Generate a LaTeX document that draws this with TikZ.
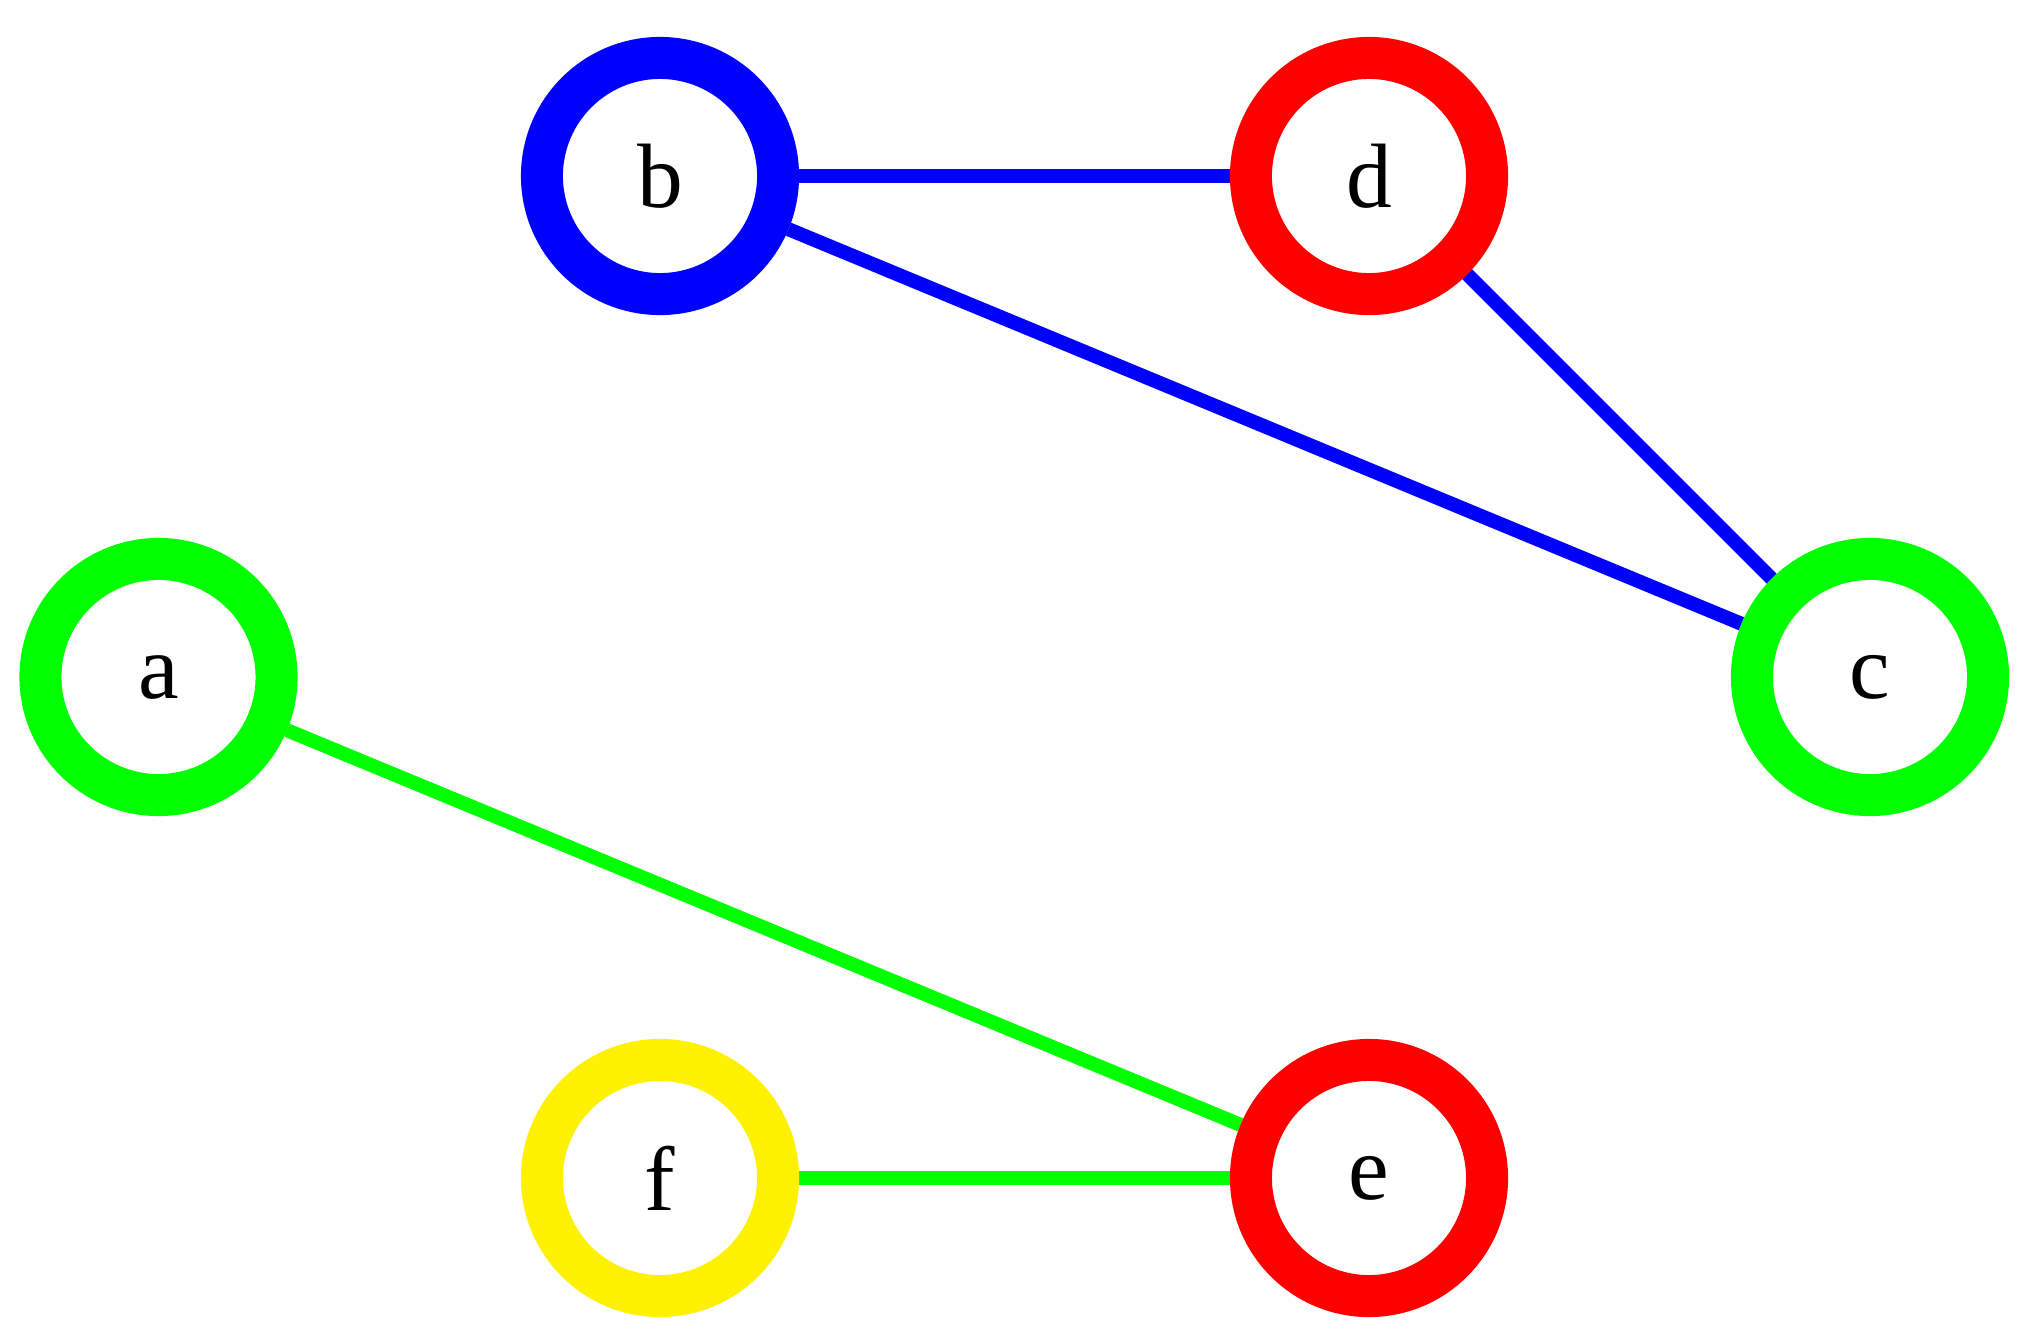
\documentclass[tikz,border=0pt]{standalone}
\usepackage{fontspec}
\setmainfont{Liberation Serif}
\usetikzlibrary{backgrounds}
\definecolor{ringblue}{RGB}{0,0,255}
\definecolor{ringred}{RGB}{255,0,0}
\definecolor{ringgreen}{RGB}{0,255,0}
\definecolor{ringyellow}{RGB}{255,242,0}
\begin{document}
\begin{tikzpicture}[x=0.01cm,y=-0.01cm,
  vertex/.style={circle, draw=#1, line width=0.42cm, minimum size=2.36cm,
    inner sep=0pt, outer sep=0.21cm, fill=white,
    font=\fontsize{26}{30}\selectfont},
  edge/.style={draw=#1, line width=0.14cm}]
\useasboundingbox (0,0) rectangle (2027,1342);
\node[vertex=ringgreen]  (a) at (158.5,677) {a};
\node[vertex=ringblue]   (b) at (660,176) {b};
\node[vertex=ringred]    (d) at (1369,176) {d};
\node[vertex=ringgreen]  (c) at (1870,677) {c};
\node[vertex=ringyellow] (f) at (660,1178) {f};
\node[vertex=ringred]    (e) at (1369,1178) {e};
\begin{scope}[on background layer]
\draw[edge=ringblue] (b) -- (d);
\draw[edge=ringblue] (b) -- (c);
\draw[edge=ringblue] (d) -- (c);
\draw[edge=ringgreen] (a) -- (e);
\draw[edge=ringgreen] (f) -- (e);
\end{scope}
\end{tikzpicture}
\end{document}
